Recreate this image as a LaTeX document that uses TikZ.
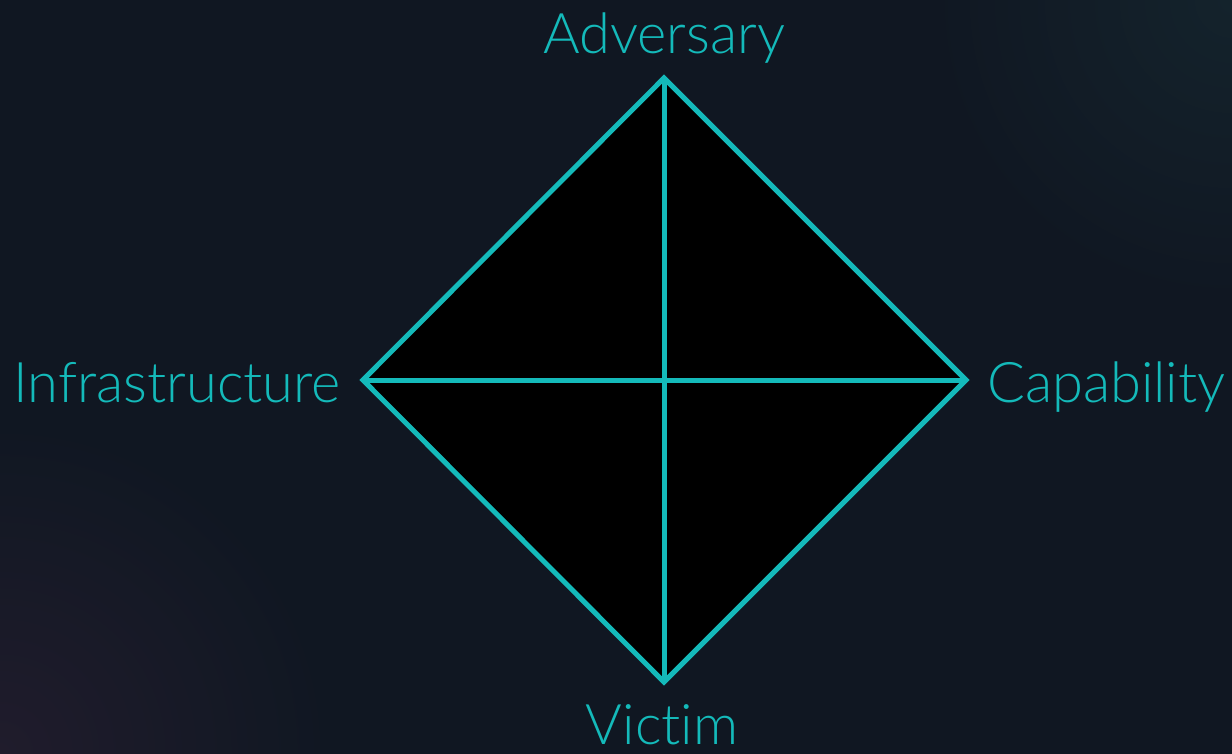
\documentclass[tikz,border=0pt]{standalone}
\usepackage{fontspec}
\setmainfont{Lato}[UprightFont=* Light, Ligatures=NoCommon]
\usetikzlibrary{positioning,calc}
\definecolor{bg}{HTML}{101722}
\definecolor{glowa}{HTML}{201C2C}
\definecolor{glowb}{HTML}{14232C}
\definecolor{cyn}{HTML}{14BABA}
\tikzset{
  edge/.style={draw=cyn, line width=5pt, line join=miter},
  lbl/.style={text=cyn, font=\fontsize{56}{62}\selectfont, inner sep=0pt},
}
\begin{document}
\begin{tikzpicture}[x=1pt,y=-1pt]
  \useasboundingbox (0,0) rectangle (1232,753);
  % background + faint corner glow
  \fill[bg] (-3,-3) rectangle (1235,756);
  \begin{scope}
    \clip (-3,-3) rectangle (1235,756);
    \shade[inner color=glowa, outer color=bg] (0,753) circle (330);
    \shade[inner color=glowb, outer color=bg] (1232,0) circle (300);
  \end{scope}
  % corners of the diamond
  \coordinate (top) at (664,78);
  \coordinate (lft) at (363,380);
  \coordinate (rgt) at (966,380);
  \coordinate (bot) at (664,682);
  \draw[edge, fill=black] (top) -- (rgt) -- (bot) -- (lft) -- cycle;
  \draw[edge] (top) -- (bot);
  \draw[edge] (lft) -- (rgt);
  % labels
  \node[lbl, anchor=base] (adv) at (664,53) {Adversary};
  \node[lbl, anchor=base east] (inf) at (341,402) {Infrastructure};
  \node[lbl, anchor=base west] (cap) at (987,402) {Capability};
  \node[lbl, anchor=base] (vic) at (662,744) {Victim};
\end{tikzpicture}
\end{document}
